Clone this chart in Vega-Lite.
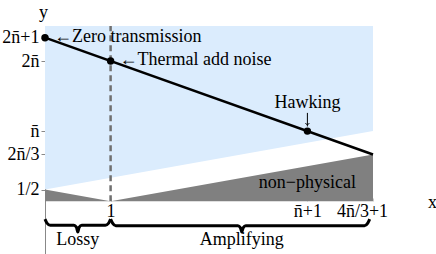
{
  "$schema": "https://vega.github.io/schema/vega-lite/v6.json",
  "width": 328,
  "height": 228,
  "autosize": "none",
  "padding": {"left": 45, "top": 26, "right": 63, "bottom": 0},
  "background": "white",
  "config": {"view": {"stroke": null}, "font": "Liberation Serif, serif"},
  "datasets": {
    "pts": [
      {"x": 0, "y": 7, "label": "←Zero transmission"},
      {"x": 1, "y": 6, "label": "←Thermal add noise"},
      {"x": 4, "y": 3, "label": "Hawking"}
    ],
    "braces": [
      {"b": "L", "x": 0, "y": -0.77}, {"b": "L", "x": 0.03, "y": -0.94}, {"b": "L", "x": 0.08, "y": -1.03},
      {"b": "L", "x": 0.44, "y": -1.03}, {"b": "L", "x": 0.48, "y": -1.12}, {"b": "L", "x": 0.5, "y": -1.32},
      {"b": "L", "x": 0.52, "y": -1.12}, {"b": "L", "x": 0.56, "y": -1.03}, {"b": "L", "x": 0.92, "y": -1.03},
      {"b": "L", "x": 0.97, "y": -0.94}, {"b": "L", "x": 1.0, "y": -0.77},
      {"b": "A", "x": 1.0, "y": -0.77}, {"b": "A", "x": 1.03, "y": -0.94}, {"b": "A", "x": 1.08, "y": -1.05},
      {"b": "A", "x": 2.94, "y": -1.05}, {"b": "A", "x": 2.98, "y": -1.14}, {"b": "A", "x": 3.0, "y": -1.32},
      {"b": "A", "x": 3.02, "y": -1.14}, {"b": "A", "x": 3.06, "y": -1.05}, {"b": "A", "x": 4.87, "y": -1.05},
      {"b": "A", "x": 4.92, "y": -0.94}, {"b": "A", "x": 4.95, "y": -0.77}
    ]
  },
  "layer": [
    {
      "data": {"values": [{"x": 0, "lo": 0.5, "hi": 7.5}, {"x": 5, "lo": 3, "hi": 7.5}]},
      "mark": {"type": "area", "color": "#dbecfd"},
      "encoding": {
        "x": {
          "field": "x", "type": "quantitative",
          "scale": {"domain": [0, 5], "nice": false, "zero": false},
          "axis": {
            "values": [1, 4, 5],
            "labelExpr": "datum.value == 1 ? '1' : datum.value == 4 ? 'n̄+1' : '4n̄/3+1'",
            "domain": false, "ticks": true, "tickSize": -3, "tickColor": "#c8c8c8", "tickWidth": 1, "grid": false,
            "offset": -53,
            "labelFont": "Liberation Serif, serif", "labelFontSize": 18, "labelColor": "black",
            "labelPadding": 4, "labelFlush": false, "labelOverlap": false,
            "labelOffset": {"condition": {"test": "datum.value == 5", "value": -11}, "value": 0},
            "title": "x", "titleX": 387, "titleY": 1, "titleAlign": "center", "titleBaseline": "middle",
            "titleFont": "Liberation Serif, serif", "titleFontSize": 18, "titleFontWeight": "normal", "titleColor": "black"
          }
        },
        "y": {
          "field": "lo", "type": "quantitative",
          "scale": {"domain": [-2.26, 7.5], "nice": false, "zero": false},
          "axis": {
            "values": [0.5, 2, 3, 6, 7],
            "labelExpr": "datum.value == 7 ? '2n̄+1' : datum.value == 6 ? '2n̄' : datum.value == 3 ? 'n̄' : datum.value == 2 ? '2n̄/3' : '1/2'",
            "grid": false, "domainColor": "#888888", "domainWidth": 1,
            "tickColor": "#888888", "tickSize": 4, "labelPadding": 2,
            "labelFont": "Liberation Serif, serif", "labelFontSize": 18, "labelColor": "black", "labelOverlap": false,
            "title": "y", "titleAngle": 0, "titleX": -2, "titleY": -14, "titleAlign": "center", "titleBaseline": "middle",
            "titleFont": "Liberation Serif, serif", "titleFontSize": 18, "titleFontWeight": "normal", "titleColor": "black"
          }
        },
        "y2": {"field": "hi"}
      }
    },
    {
      "data": {"values": [{"x": 0, "lo": 0, "hi": 0.5}, {"x": 1, "lo": 0, "hi": 0}, {"x": 5, "lo": 0, "hi": 2}]},
      "mark": {"type": "area", "color": "#808080"},
      "encoding": {
        "x": {"field": "x", "type": "quantitative"},
        "y": {"field": "lo", "type": "quantitative"},
        "y2": {"field": "hi"}
      }
    },
    {
      "data": {"values": [{"x": 1, "y": 0, "y2": 7.5}]},
      "mark": {"type": "rule", "color": "#707070", "strokeWidth": 2.5, "strokeDash": [6, 4]},
      "encoding": {
        "x": {"field": "x", "type": "quantitative"},
        "y": {"field": "y", "type": "quantitative"},
        "y2": {"field": "y2"}
      }
    },
    {
      "data": {"values": [{"x": 0, "y": 7}, {"x": 5, "y": 2}]},
      "mark": {"type": "line", "color": "black", "strokeWidth": 2.5},
      "encoding": {
        "x": {"field": "x", "type": "quantitative"},
        "y": {"field": "y", "type": "quantitative"}
      }
    },
    {
      "data": {"name": "pts"},
      "mark": {"type": "point", "filled": true, "color": "black", "size": 55, "opacity": 1},
      "encoding": {
        "x": {"field": "x", "type": "quantitative"},
        "y": {"field": "y", "type": "quantitative"}
      }
    },
    {
      "data": {"name": "pts"},
      "transform": [{"filter": "datum.x < 2"}],
      "mark": {"type": "text", "align": "left", "baseline": "middle", "dx": 9, "dy": -1, "fontSize": 18, "font": "Liberation Serif, serif", "color": "black"},
      "encoding": {
        "x": {"field": "x", "type": "quantitative"},
        "y": {"field": "y", "type": "quantitative"},
        "text": {"field": "label"}
      }
    },
    {
      "data": {"name": "pts"},
      "transform": [{"filter": "datum.x > 2"}],
      "mark": {"type": "text", "align": "center", "baseline": "middle", "dy": -28, "fontSize": 18, "font": "Liberation Serif, serif", "color": "black"},
      "encoding": {
        "x": {"field": "x", "type": "quantitative"},
        "y": {"field": "y", "type": "quantitative"},
        "text": {"field": "label"}
      }
    },
    {
      "data": {"values": [{"x": 4, "y": 3.2, "y2": 3.78}]},
      "mark": {"type": "rule", "color": "black", "strokeWidth": 1},
      "encoding": {
        "x": {"field": "x", "type": "quantitative"},
        "y": {"field": "y", "type": "quantitative"},
        "y2": {"field": "y2"}
      }
    },
    {
      "data": {"values": [{"x": 4, "y": 3.26}]},
      "mark": {"type": "point", "shape": "M -1 -1 L 0 0 L 1 -1", "filled": false, "color": "black", "strokeWidth": 1, "size": 16, "opacity": 1},
      "encoding": {
        "x": {"field": "x", "type": "quantitative"},
        "y": {"field": "y", "type": "quantitative"}
      }
    },
    {
      "data": {"values": [
        {"x": 4.0, "y": 0.77, "t": "non−physical"},
        {"x": 0.5, "y": -1.68, "t": "Lossy"},
        {"x": 3.0, "y": -1.68, "t": "Amplifying"}
      ]},
      "mark": {"type": "text", "align": "center", "baseline": "middle", "fontSize": 18, "font": "Liberation Serif, serif", "color": "black"},
      "encoding": {
        "x": {"field": "x", "type": "quantitative"},
        "y": {"field": "y", "type": "quantitative"},
        "text": {"field": "t"}
      }
    },
    {
      "data": {"name": "braces"},
      "mark": {"type": "line", "color": "black", "strokeWidth": 3, "interpolate": "monotone"},
      "encoding": {
        "x": {"field": "x", "type": "quantitative"},
        "y": {"field": "y", "type": "quantitative"},
        "detail": {"field": "b"}
      }
    }
  ]
}
